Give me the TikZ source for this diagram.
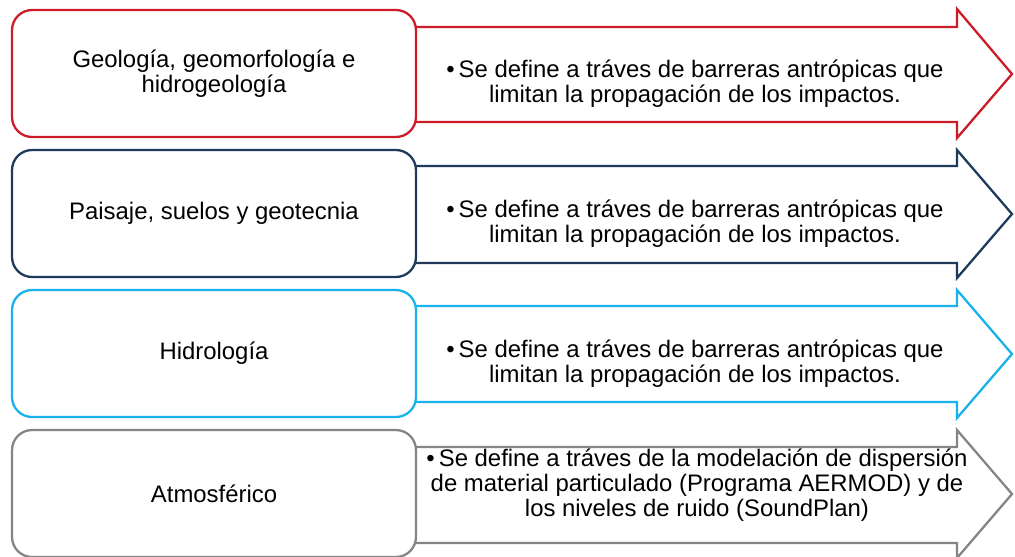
\documentclass[tikz,border=0pt]{standalone}
\usepackage{fontspec}
\setmainfont{Liberation Sans}
\definecolor{rojo}{HTML}{CC1C28}
\definecolor{marino}{HTML}{1F3A5C}
\definecolor{celeste}{HTML}{19B2EC}
\definecolor{gris}{HTML}{858585}
\begin{document}
\begin{tikzpicture}[x=0.02cm,y=-0.02cm,
    caja/.style={draw, line width=1.3pt, rounded corners=0.4cm, fill=white,
      minimum width=8.08cm, minimum height=2.54cm, align=center,
      font=\fontsize{13.6}{14.2}\selectfont},
    flecha/.style={draw, line width=1.3pt, fill=white, line join=miter},
    texto/.style={align=center, font=\fontsize{13.6}{14.2}\selectfont}]
    \useasboundingbox (0,0) rectangle (1015,556);

    % Flechas
    \draw[flecha, draw=rojo] (400,27) -- (957,27) -- (957,9) -- (1012,74) -- (957,138) -- (957,122) -- (400,122) -- cycle;
    \draw[flecha, draw=marino] (400,166) -- (957,166) -- (957,150) -- (1012,214) -- (957,278) -- (957,263) -- (400,263) -- cycle;
    \draw[flecha, draw=celeste] (400,306) -- (957,306) -- (957,290) -- (1012,354) -- (957,418) -- (957,402) -- (400,402) -- cycle;
    \draw[flecha, draw=gris] (400,447) -- (957,447) -- (957,430) -- (1012,494) -- (957,558) -- (957,543) -- (400,543) -- cycle;

    % Cajas
    \node[caja, draw=rojo] (geo) at (214,73.5) {Geología, geomorfología e\\hidrogeología};
    \node[caja, draw=marino] (pai) at (214,213.5) {Paisaje, suelos y geotecnia};
    \node[caja, draw=celeste] (hid) at (214,353.5) {Hidrología};
    \node[caja, draw=gris] (atm) at (214,493.5) {Atmosférico};

    % Textos
    \node[texto] (tgeo) at (695,84) {•\,Se define a tráves de barreras antrópicas que\\limitan la propagación de los impactos.};
    \node[texto] (tpai) at (695,224) {•\,Se define a tráves de barreras antrópicas que\\limitan la propagación de los impactos.};
    \node[texto] (thid) at (695,364) {•\,Se define a tráves de barreras antrópicas que\\limitan la propagación de los impactos.};
    \node[texto] (tatm) at (697,485) {•\,Se define a tráves de la modelación de dispersión\\de material particulado (Programa AERMOD) y de\\los niveles de ruido (SoundPlan)};
\end{tikzpicture}
\end{document}
